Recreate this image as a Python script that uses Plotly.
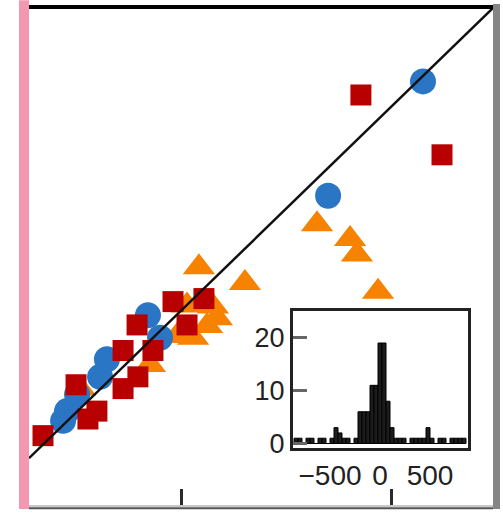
import plotly.graph_objects as go

# ---------------- data ----------------
blue_x = [2153, 1699, 837, 895, 641, 608, 498, 450, 431]
blue_y = [2126, 1562, 973, 862, 756, 669, 582, 500, 452]

red_x = [1856, 2244, 1024, 957, 1105, 785, 718, 861, 789, 718, 593, 550, 335, 493]
red_y = [2059, 1764, 925, 1040, 1055, 925, 799, 799, 669, 611, 500, 461, 379, 630]

orange_x = [1646, 1804, 1837, 1938, 1081, 1301, 1148, 1120, 1053, 976, 1024, 1167, 847, 512]
orange_y = [1422, 1349, 1272, 1089, 1209, 1132, 1016, 920, 862, 871, 1021, 958, 727, 611]

diag = [268, 2488]

hist_centers = [-840, -800, -760, -720, -680, -640, -600, -560, -520, -480, -440, -400,
                -360, -320, -280, -240, -200, -160, -120, -80, -40, 0, 40, 80, 120,
                160, 200, 240, 280, 320, 360, 400, 440, 480, 520, 560, 600, 640, 680,
                720, 760, 800, 840]
hist_counts = [1, 1, 0, 1, 1, 0, 1, 1, 0, 1, 3, 2,
               1, 1, 0, 1, 6, 6, 6, 11, 11, 19, 19, 8, 3,
               1, 1, 1, 0, 1, 1, 1, 1, 3, 1, 0, 1, 1, 0,
               1, 1, 1, 1]

main_tickvals = [1000, 2000]
inset_xticks = [-500, 0, 500]
inset_xtext = ["\u2212500", "0", "500"]
inset_yticks = [0, 10, 20]

fig = go.Figure()

fig.add_trace(go.Scatter(x=orange_x, y=orange_y, mode="markers",
                         marker=dict(symbol="triangle-up", size=28, color="#F78200",
                                     line=dict(width=0)),
                         showlegend=False, xaxis="x", yaxis="y", hoverinfo="skip"))
fig.add_trace(go.Scatter(x=blue_x, y=blue_y, mode="markers",
                         marker=dict(symbol="circle", size=26, color="#2A76C4",
                                     line=dict(width=0)),
                         showlegend=False, xaxis="x", yaxis="y", hoverinfo="skip"))
fig.add_trace(go.Scatter(x=red_x, y=red_y, mode="markers",
                         marker=dict(symbol="square", size=21, color="#B80000",
                                     line=dict(width=0)),
                         showlegend=False, xaxis="x", yaxis="y", hoverinfo="skip"))
fig.add_trace(go.Scatter(x=diag, y=diag, mode="lines",
                         line=dict(color="#111111", width=2.5),
                         showlegend=False, xaxis="x", yaxis="y", hoverinfo="skip"))

fig.add_trace(go.Bar(x=hist_centers, y=hist_counts, width=40,
                     marker=dict(color="#1c1c1c", line=dict(color="#000000", width=1)),
                     showlegend=False, xaxis="x2", yaxis="y2", hoverinfo="skip"))

W, H = 503, 520
L, R, T, B = 29, 10, 8, 3
pw, ph = W - L - R, H - T - B


def px(xp):
    return (xp - L) / pw


def py(yp):
    return (H - B - yp) / ph


fig.update_layout(
    width=W, height=H,
    margin=dict(l=L, r=R, t=T, b=B, pad=0),
    paper_bgcolor="white", plot_bgcolor="white",
    font=dict(family="Liberation Sans, Arial, sans-serif", color="#111111"),
    xaxis=dict(range=[268, 2488], showgrid=False, zeroline=False, showline=False,
               tickvals=main_tickvals, ticks="inside", ticklen=17, tickwidth=3,
               tickcolor="#2a2a2a", showticklabels=False, domain=[0, 1]),
    yaxis=dict(range=[32, 2488], showgrid=False, zeroline=False, showline=False,
               showticklabels=False, ticks="", domain=[0, 1]),
    xaxis2=dict(domain=[px(293), px(468)], anchor="y2", range=[-870, 880],
                showgrid=False, zeroline=False, showline=True, mirror=True,
                linecolor="#222222", linewidth=3, ticks="",
                tickvals=inset_xticks, ticktext=inset_xtext,
                tickfont=dict(size=28, color="#222222")),
    yaxis2=dict(domain=[py(458), py(318)], anchor="x2", range=[-0.9, 25],
                showgrid=False, zeroline=False, showline=True, mirror=True,
                linecolor="#222222", linewidth=3, ticks="inside", ticklen=14,
                tickwidth=3, tickcolor="#666666", tickvals=inset_yticks,
                tickfont=dict(size=27, color="#222222")),
    bargap=0,
    hovermode=False,
    shapes=[
        dict(type="rect", xref="paper", yref="paper", x0=px(19), x1=px(29),
             y0=py(520), y1=py(0), fillcolor="#F497B0", line=dict(width=0), layer="above"),
        dict(type="line", xref="paper", yref="paper", x0=px(29), x1=px(493),
             y0=py(7), y1=py(7), line=dict(color="#000000", width=4), layer="above"),
        dict(type="line", xref="paper", yref="paper", x0=px(496.5), x1=px(496.5),
             y0=py(4), y1=py(520), line=dict(color="#858585", width=7), layer="above"),
        dict(type="line", xref="paper", yref="paper", x0=px(29), x1=px(493),
             y0=py(517), y1=py(517), line=dict(color="#c8c8c8", width=2), layer="above"),
        dict(type="line", xref="paper", yref="paper", x0=px(29), x1=px(493),
             y0=py(519.3), y1=py(519.3), line=dict(color="#555555", width=2), layer="above"),
    ],
)

post = (
    "var de=document.documentElement, bd=document.body;"
    "de.style.margin='0';de.style.padding='0';de.style.overflow='hidden';"
    "de.style.width='503px';de.style.height='520px';"
    "bd.style.margin='0';bd.style.padding='0';bd.style.overflow='hidden';"
    "bd.style.width='503px';bd.style.height='520px';"
    "var g=document.getElementsByClassName('plotly-graph-div')[0];"
    "g.style.position='fixed';g.style.left='0px';g.style.top='0px';"
)

fig.write_html("out.html", config={"displayModeBar": False, "staticPlot": True},
               post_script=post)
